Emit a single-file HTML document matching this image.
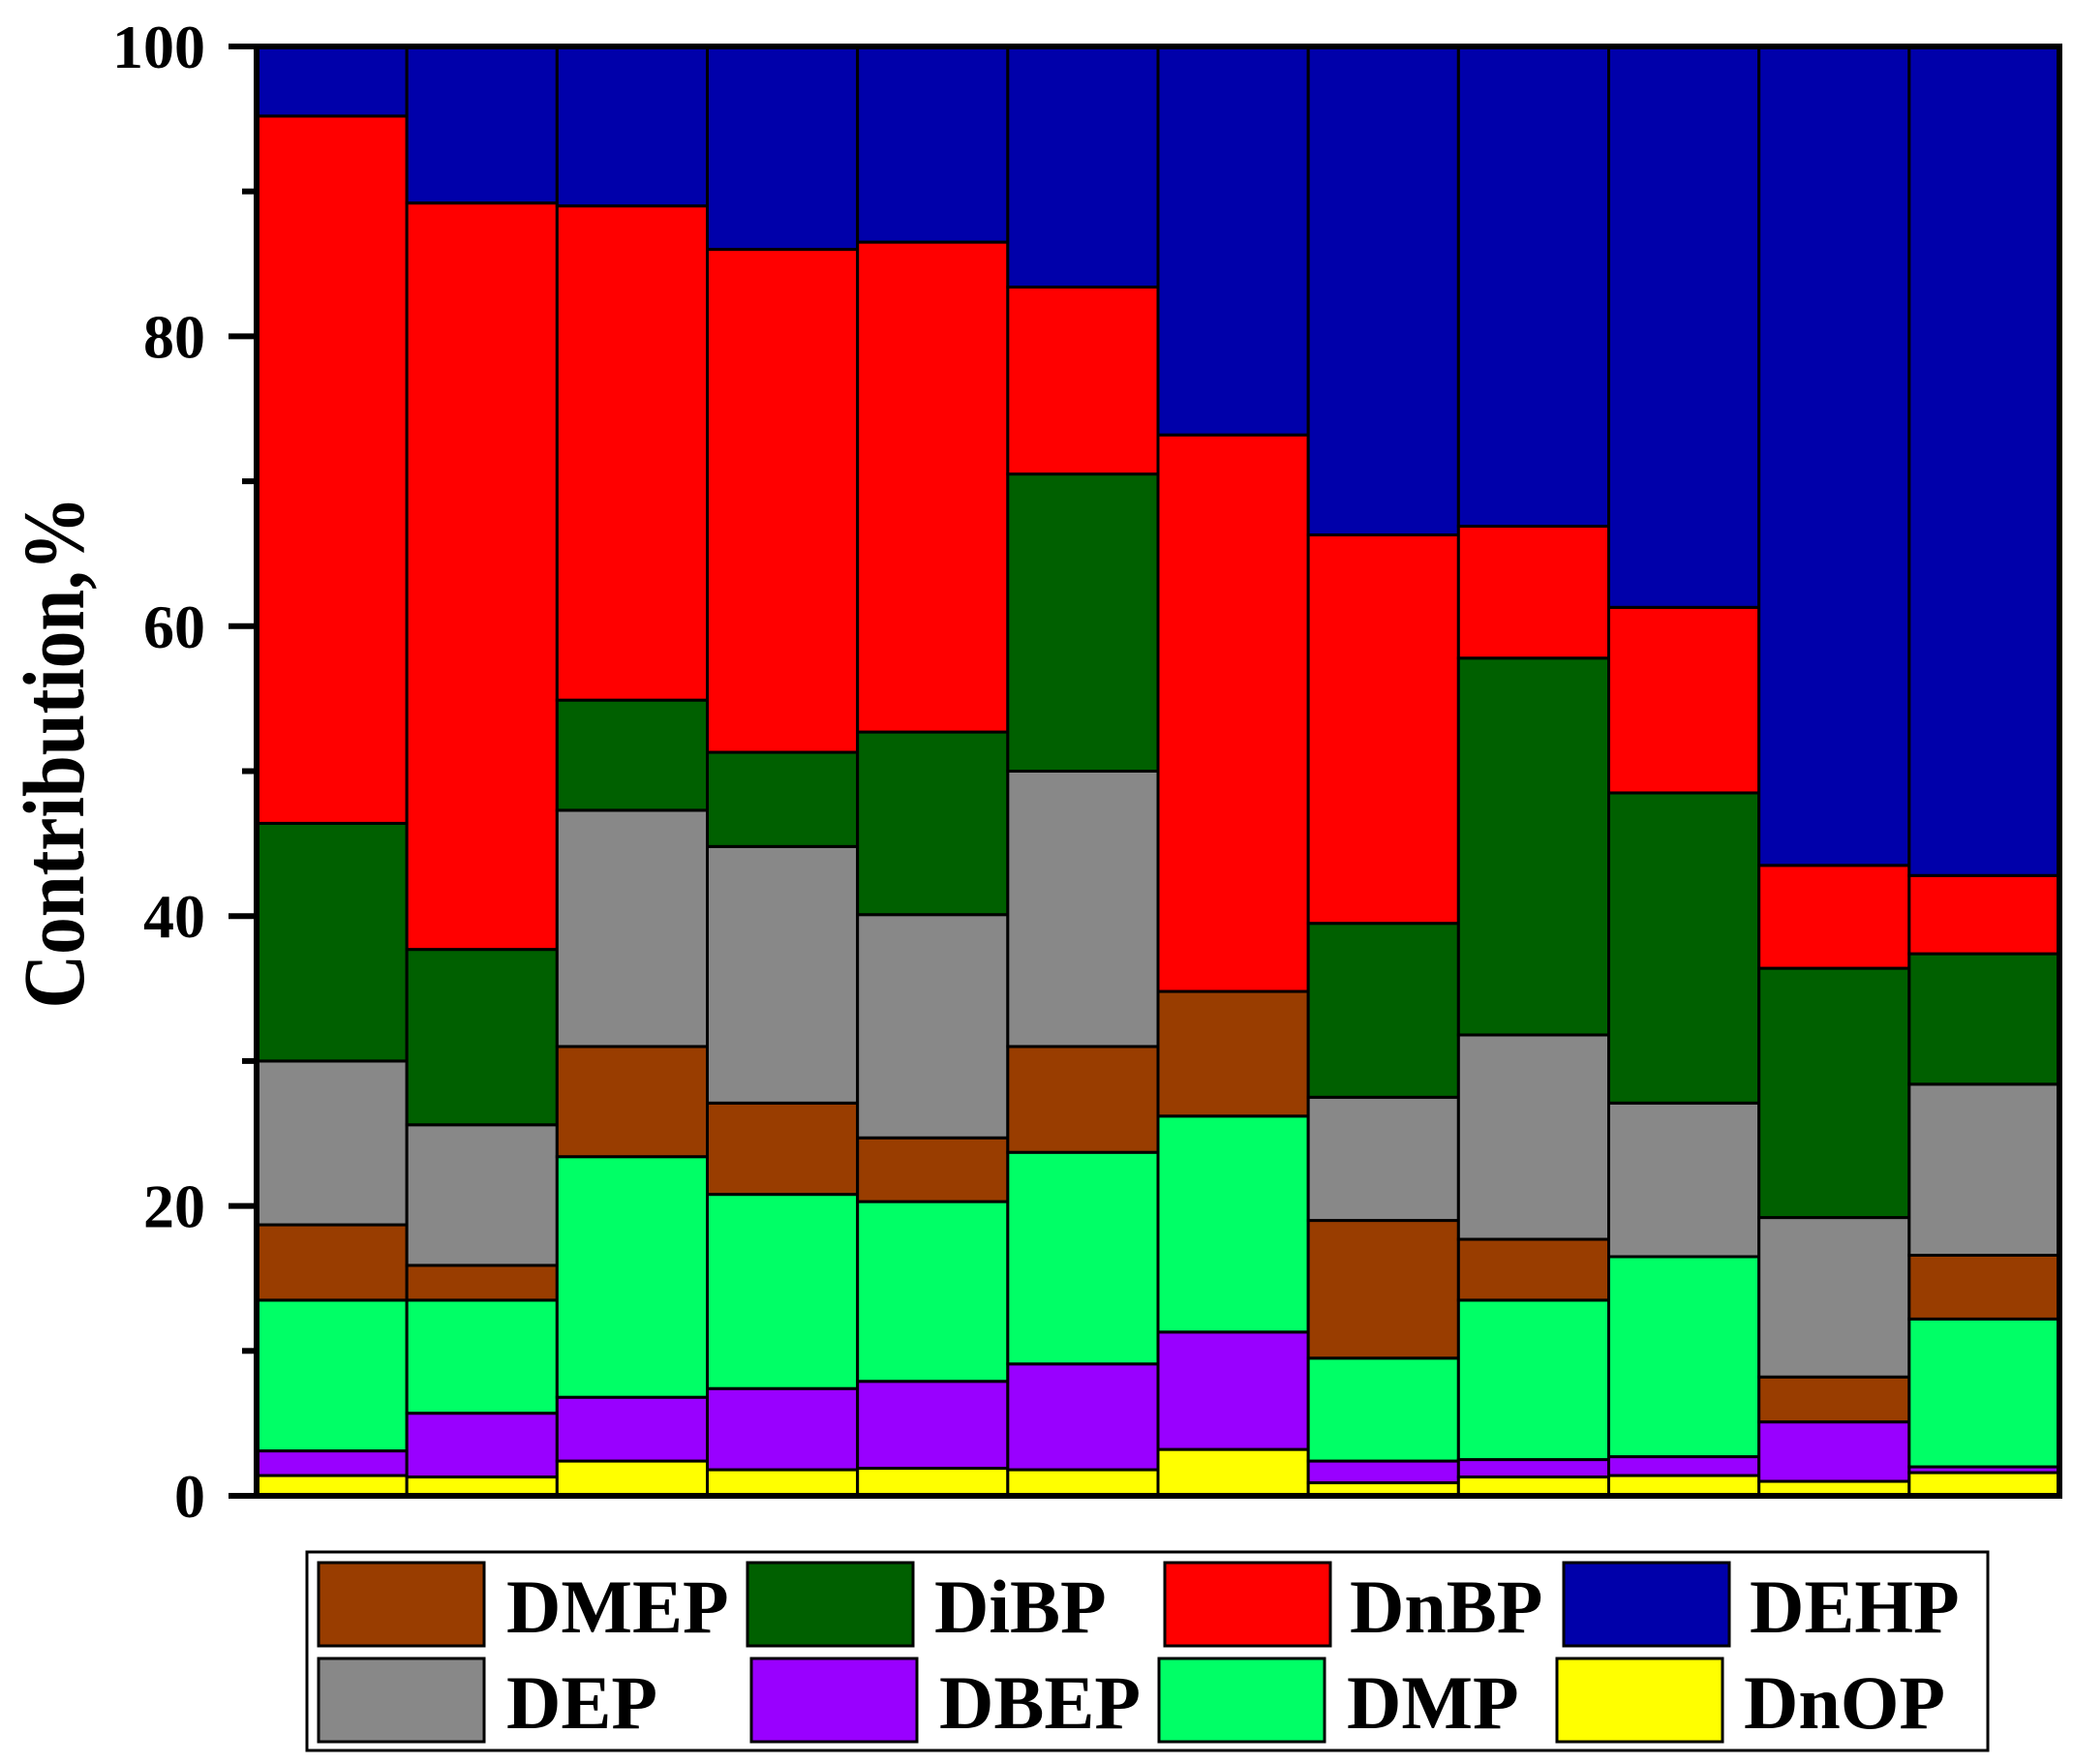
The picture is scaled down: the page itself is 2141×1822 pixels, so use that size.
<!DOCTYPE html>
<html><head><meta charset="utf-8"><style>
html,body{margin:0;padding:0;background:#fff}
svg{display:block}
text{font-family:"Liberation Serif","Times New Roman",Times,serif;font-weight:bold;fill:#000}
</style></head><body>
<svg id="chart" width="2141" height="1822" viewBox="0 0 2141 1822" xmlns="http://www.w3.org/2000/svg">
<g id="bars"></g>
<g id="axes"></g>
<text transform="translate(86,777) rotate(-90)" text-anchor="middle" font-size="90" textLength="529" lengthAdjust="spacingAndGlyphs">Contribution,%</text>
<g>
<rect x="317" y="1603" width="1736" height="205" fill="#fff" stroke="#000" stroke-width="3"/>
<g id="legend-items"></g>
</g>
</svg>
<script>
const categories = ["S1","S2","S3","S4","S5","S6","S7","S8","S9","S10","S11","S12"];
const seriesNames = ["DnOP","DBEP","DMP","DMEP","DEP","DiBP","DnBP","DEHP"];
const seriesColors = ["#ffff00","#9900ff","#00ff66","#993d00","#888888","#006000","#ff0000","#0000aa"];
const DnOP = [1.4,1.3,2.4,1.8,1.9,1.8,3.2,0.9,1.3,1.4,1.0,1.6];
const DBEP = [1.7,4.4,4.4,5.6,6.0,7.3,8.1,1.5,1.2,1.3,4.1,0.4];
const DMP  = [10.4,7.8,16.6,13.4,12.4,14.6,14.9,7.1,11.0,13.8,0,10.2];
const DMEP = [5.2,2.4,7.6,6.3,4.4,7.3,8.6,9.5,4.2,0,3.1,4.4];
const DEP  = [11.3,9.7,16.3,17.7,15.4,19.0,0,8.5,14.1,10.6,11.0,11.8];
const DiBP = [16.4,12.1,7.6,6.5,12.6,20.5,0,12.0,26.0,21.4,17.2,9.0];
const DnBP = [48.8,51.5,34.1,34.7,33.8,12.9,38.4,26.8,9.1,12.8,7.1,5.4];
const DEHP = [4.8,10.8,11.0,14.0,13.5,16.6,26.8,33.7,33.1,38.7,56.5,57.2];
const yTicks = [0,20,40,60,80,100];
const yMinor = [10,30,50,70,90];

const series = [DnOP,DBEP,DMP,DMEP,DEP,DiBP,DnBP,DEHP];
const NS="http://www.w3.org/2000/svg";
const X0=265, X1=2127, Y0=1545, Y1=48;
const bw=(X1-X0)/categories.length;
const xS=i=>X0+i*bw;
const yS=v=>Y0-(v/100)*(Y0-Y1);
function mk(tag,attrs,parent){const e=document.createElementNS(NS,tag);for(const k in attrs)e.setAttribute(k,attrs[k]);parent.appendChild(e);return e;}
const bars=document.getElementById('bars');
categories.forEach((c,i)=>{
  let cum=0;
  series.forEach((s,j)=>{
    const v=s[i];
    if(v<=0)return;
    const yt=yS(Math.min(cum+v,100)), yb=yS(cum);
    const r=mk('rect',{x:xS(i),y:yt,width:bw,height:yb-yt,fill:seriesColors[j],stroke:'#000','stroke-width':3},bars);
    
    
    cum+=v;
  });
});
const ax=document.getElementById('axes');
let l;
l=mk('line',{x1:X0,y1:Y1,x2:X0,y2:Y0+2,stroke:'#000','stroke-width':6},ax);

l=mk('line',{x1:236,y1:Y0,x2:X1+3,y2:Y0,stroke:'#000','stroke-width':6},ax);

l=mk('line',{x1:X0,y1:Y1,x2:X1+3,y2:Y1,stroke:'#000','stroke-width':6},ax);

l=mk('line',{x1:X1,y1:Y1,x2:X1,y2:Y0,stroke:'#000','stroke-width':6},ax);

yTicks.forEach(t=>{
  const y=yS(t);
  const tk=mk('line',{x1:236,y1:y,x2:X0,y2:y,stroke:'#000','stroke-width':6},ax);
  
  
  const tx=mk('text',{x:212,y:y+22,'text-anchor':'end','font-size':64},ax);
  tx.textContent=t;
  
  
});
yMinor.forEach(t=>{
  const y=yS(t);
  const tk=mk('line',{x1:250,y1:y,x2:X0,y2:y,stroke:'#000','stroke-width':6},ax);
  
  
});
const lg=document.getElementById('legend-items');
const legendItems=[
 ["DMEP",329,1614,523],["DiBP",772,1614,965],["DnBP",1203,1614,1394],["DEHP",1615,1614,1807],
 ["DEP",329,1713,523],["DBEP",776,1713,970],["DMP",1197,1713,1391],["DnOP",1608,1713,1801]];
legendItems.forEach(it=>{
  const j=seriesNames.indexOf(it[0]);
  const sw=mk('rect',{x:it[1],y:it[2],width:171,height:86,fill:seriesColors[j],stroke:'#000','stroke-width':3},lg);
  
  
  const tx=mk('text',{x:it[3],y:it[2]+72,'font-size':78},lg);
  tx.textContent=it[0];
  
  
});
</script>
</body></html>
